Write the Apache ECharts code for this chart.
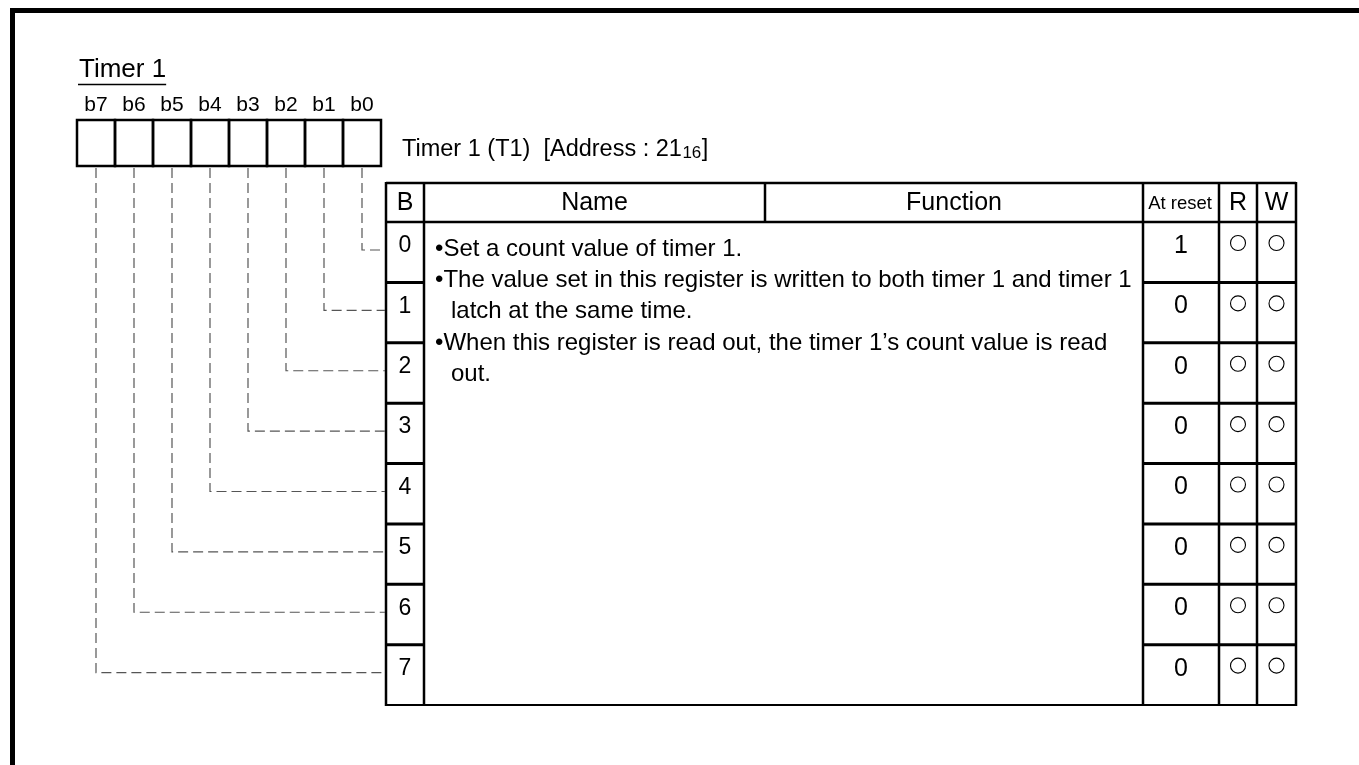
<!DOCTYPE html>
<html><head><meta charset="utf-8">
<script src="https://cdn.jsdelivr.net/npm/echarts@6/dist/echarts.min.js"></script>
<style>html,body{margin:0;padding:0;background:#fff}#c{width:1359px;height:765px}</style>
</head><body><div id="c"></div>
<script>
// ---------------- data ----------------
const titleText = 'Timer 1';
const bitLabels = ['b7', 'b6', 'b5', 'b4', 'b3', 'b2', 'b1', 'b0'];
const registerCaption = 'Timer 1 (T1)  [Address : 21';
const addressSubscript = '16';
const captionClose = ']';
const headerLabels = ['B', 'Name', 'Function', 'At reset', 'R', 'W'];
const bitNumbers = ['0', '1', '2', '3', '4', '5', '6', '7'];
const resetValues = ['1', '0', '0', '0', '0', '0', '0', '0'];
const readMarks = ['○', '○', '○', '○', '○', '○', '○', '○'];
const writeMarks = ['○', '○', '○', '○', '○', '○', '○', '○'];
const functionLines = [
  '•Set a count value of timer 1.',
  '•The value set in this register is written to both timer 1 and timer 1',
  'latch at the same time.',
  '•When this register is read out, the timer 1’s count value is read',
  'out.'
];

// ---------------- layout (diagram units = pixels of the axes) ----------------
const FONT = '"Liberation Sans", Arial, Helvetica, sans-serif';
const L = {
  W: 1359, H: 765,
  frameTop: 10.5, frameLeft: 12.5, frameW: 5,
  titleX: 79, titleBase: 79, titleSize: 26, underlineY: 84.5,
  boxLeft: 77, boxW: 38, boxTop: 120, boxBottom: 166,
  bitBase: 113, bitSize: 21,
  capX: 402, capBase: 158, capSize: 23.5, subSize: 17,
  cols: [386, 424, 765, 1143, 1219, 1257, 1296],
  headTop: 183, headBottom: 222, tableBottom: 705,
  headSize: 25, resetHeadSize: 18.5, rwHeadSize: 25,
  bSize: 23, resetSize: 25, digitOffset: 24, circleOffset: 21, circleR: 7.5,
  dashOffset: 28,
  textX: 435, contX: 451, textSize: 24, textFirst: 249, textStep: 31.3
};
const rowH = (L.tableBottom - L.headBottom) / bitNumbers.length;
const mid = (base, size) => base - 0.35 * size;
const colC = k => (L.cols[k] + L.cols[k + 1]) / 2;

const measure = (() => {
  const ctx = document.createElement('canvas').getContext('2d');
  return (t, size) => { ctx.font = size + 'px ' + FONT; return ctx.measureText(t).width; };
})();

function txt(api, x, y, text, size, align) {
  const p = api.coord([x, y]);
  return { type: 'text', style: { text: text, x: p[0], y: p[1], fill: '#000',
    font: size + 'px ' + FONT, align: align || 'center', verticalAlign: 'middle' } };
}
function line(api, x1, y1, x2, y2, w, dash, color) {
  const a = api.coord([x1, y1]), b = api.coord([x2, y2]);
  return { type: 'line', shape: { x1: a[0], y1: a[1], x2: b[0], y2: b[1] },
    style: { stroke: color || '#000', lineWidth: w, lineDash: dash || null } };
}

// static parts of the diagram
function renderStatic(params, api) {
  const ch = [];
  // frame
  ch.push(line(api, L.frameLeft - L.frameW / 2, L.frameTop, L.W, L.frameTop, L.frameW));
  ch.push(line(api, L.frameLeft, L.frameTop, L.frameLeft, L.H, L.frameW));
  // title + underline
  ch.push(txt(api, L.titleX, mid(L.titleBase, L.titleSize), titleText, L.titleSize, 'left'));
  const tw = measure(titleText, L.titleSize);
  ch.push(line(api, L.titleX - 1, L.underlineY, L.titleX + tw, L.underlineY, 1.5));
  // caption with subscript
  ch.push(txt(api, L.capX, mid(L.capBase, L.capSize), registerCaption, L.capSize, 'left'));
  const cw = measure(registerCaption, L.capSize);
  ch.push(txt(api, L.capX + cw + 0.5, mid(L.capBase, L.subSize) + 1, addressSubscript, L.subSize, 'left'));
  const sw = measure(addressSubscript, L.subSize);
  ch.push(txt(api, L.capX + cw + sw + 1, mid(L.capBase, L.capSize), captionClose, L.capSize, 'left'));
  // header labels
  const hy = (L.headTop + L.headBottom) / 2;
  const hc = [colC(0), colC(1), colC(2), (L.cols[3] + L.cols[4]) / 2 - 1, colC(4), colC(5)];
  const hs = [L.headSize, L.headSize, L.headSize, L.resetHeadSize, L.rwHeadSize, L.rwHeadSize];
  headerLabels.forEach((h, k) => ch.push(txt(api, hc[k], hy + 1, h, hs[k])));
  // table borders
  const c = L.cols;
  ch.push(line(api, c[0], L.headTop, c[6], L.headTop, 2.5));
  ch.push(line(api, c[0], L.headBottom, c[6], L.headBottom, 2.5));
  ch.push(line(api, c[0] - 1, L.tableBottom, c[6] + 1, L.tableBottom, 2));
  [0, 1, 3, 4, 5, 6].forEach(k => ch.push(line(api, c[k], L.headTop - 1, c[k], L.tableBottom + 1, 2.5)));
  ch.push(line(api, c[2], L.headTop, c[2], L.headBottom, 2.5));
  // function text
  functionLines.forEach((t, k) => {
    const isBullet = t.charAt(0) === '•';
    ch.push(txt(api, isBullet ? L.textX : L.contX, L.textFirst + k * L.textStep, t, L.textSize, 'left'));
  });
  return { type: 'group', children: ch };
}

// one row per bit
function renderRow(params, api) {
  const i = params.dataIndex;
  const top = L.headBottom + i * rowH;
  const bottom = top + rowH;
  const c = L.cols;
  const ch = [];
  ch.push(txt(api, colC(0), top + L.digitOffset, bitNumbers[i], L.bSize));
  ch.push(txt(api, colC(3), top + L.digitOffset, resetValues[i], L.resetSize));
  const r = api.size([L.circleR, 0])[0];
  [[readMarks[i], colC(4)], [writeMarks[i], colC(5)]].forEach(([m, x]) => {
    if (m === '○') {
      const p = api.coord([x, top + L.circleOffset]);
      ch.push({ type: 'circle', shape: { cx: p[0], cy: p[1], r: r },
        style: { fill: 'none', stroke: '#000', lineWidth: 1.1 } });
    }
  });
  if (i < bitNumbers.length - 1) {
    ch.push(line(api, c[0], bottom, c[1], bottom, 3));
    ch.push(line(api, c[3], bottom, c[6], bottom, 3));
  }
  // register box for this bit
  const j = bitNumbers.length - 1 - i;
  const bx = L.boxLeft + j * L.boxW;
  const a = api.coord([bx, L.boxTop]), b = api.coord([bx + L.boxW, L.boxBottom]);
  ch.push({ type: 'rect', shape: { x: a[0], y: a[1], width: b[0] - a[0], height: b[1] - a[1] },
    style: { fill: 'none', stroke: '#000', lineWidth: 2.5 } });
  ch.push(txt(api, bx + L.boxW / 2, mid(L.bitBase, L.bitSize), bitLabels[j], L.bitSize));
  // dashed connector
  const cx = bx + L.boxW / 2, cy = top + L.dashOffset;
  const p1 = api.coord([cx, L.boxBottom + 2]), p2 = api.coord([cx, cy]), p3 = api.coord([c[0] - 1, cy]);
  ch.push({ type: 'polyline', shape: { points: [p1, p2, p3] },
    style: { fill: 'none', stroke: '#555', lineWidth: 1.2, lineDash: [10, 5] } });
  return { type: 'group', children: ch };
}

const chart = echarts.init(document.getElementById('c'), null, { renderer: 'canvas' });
chart.setOption({
  animation: false,
  backgroundColor: '#fff',
  grid: { left: 0, right: 0, top: 0, bottom: 0 },
  xAxis: { type: 'value', min: 0, max: L.W, show: false },
  yAxis: { type: 'value', min: 0, max: L.H, inverse: true, show: false },
  series: [
    { type: 'custom', data: [[0, 0]], renderItem: renderStatic, silent: true, clip: false },
    { type: 'custom', data: bitNumbers.map((b, i) => [i, i]), renderItem: renderRow, silent: true, clip: false }
  ]
});
</script></body></html>
